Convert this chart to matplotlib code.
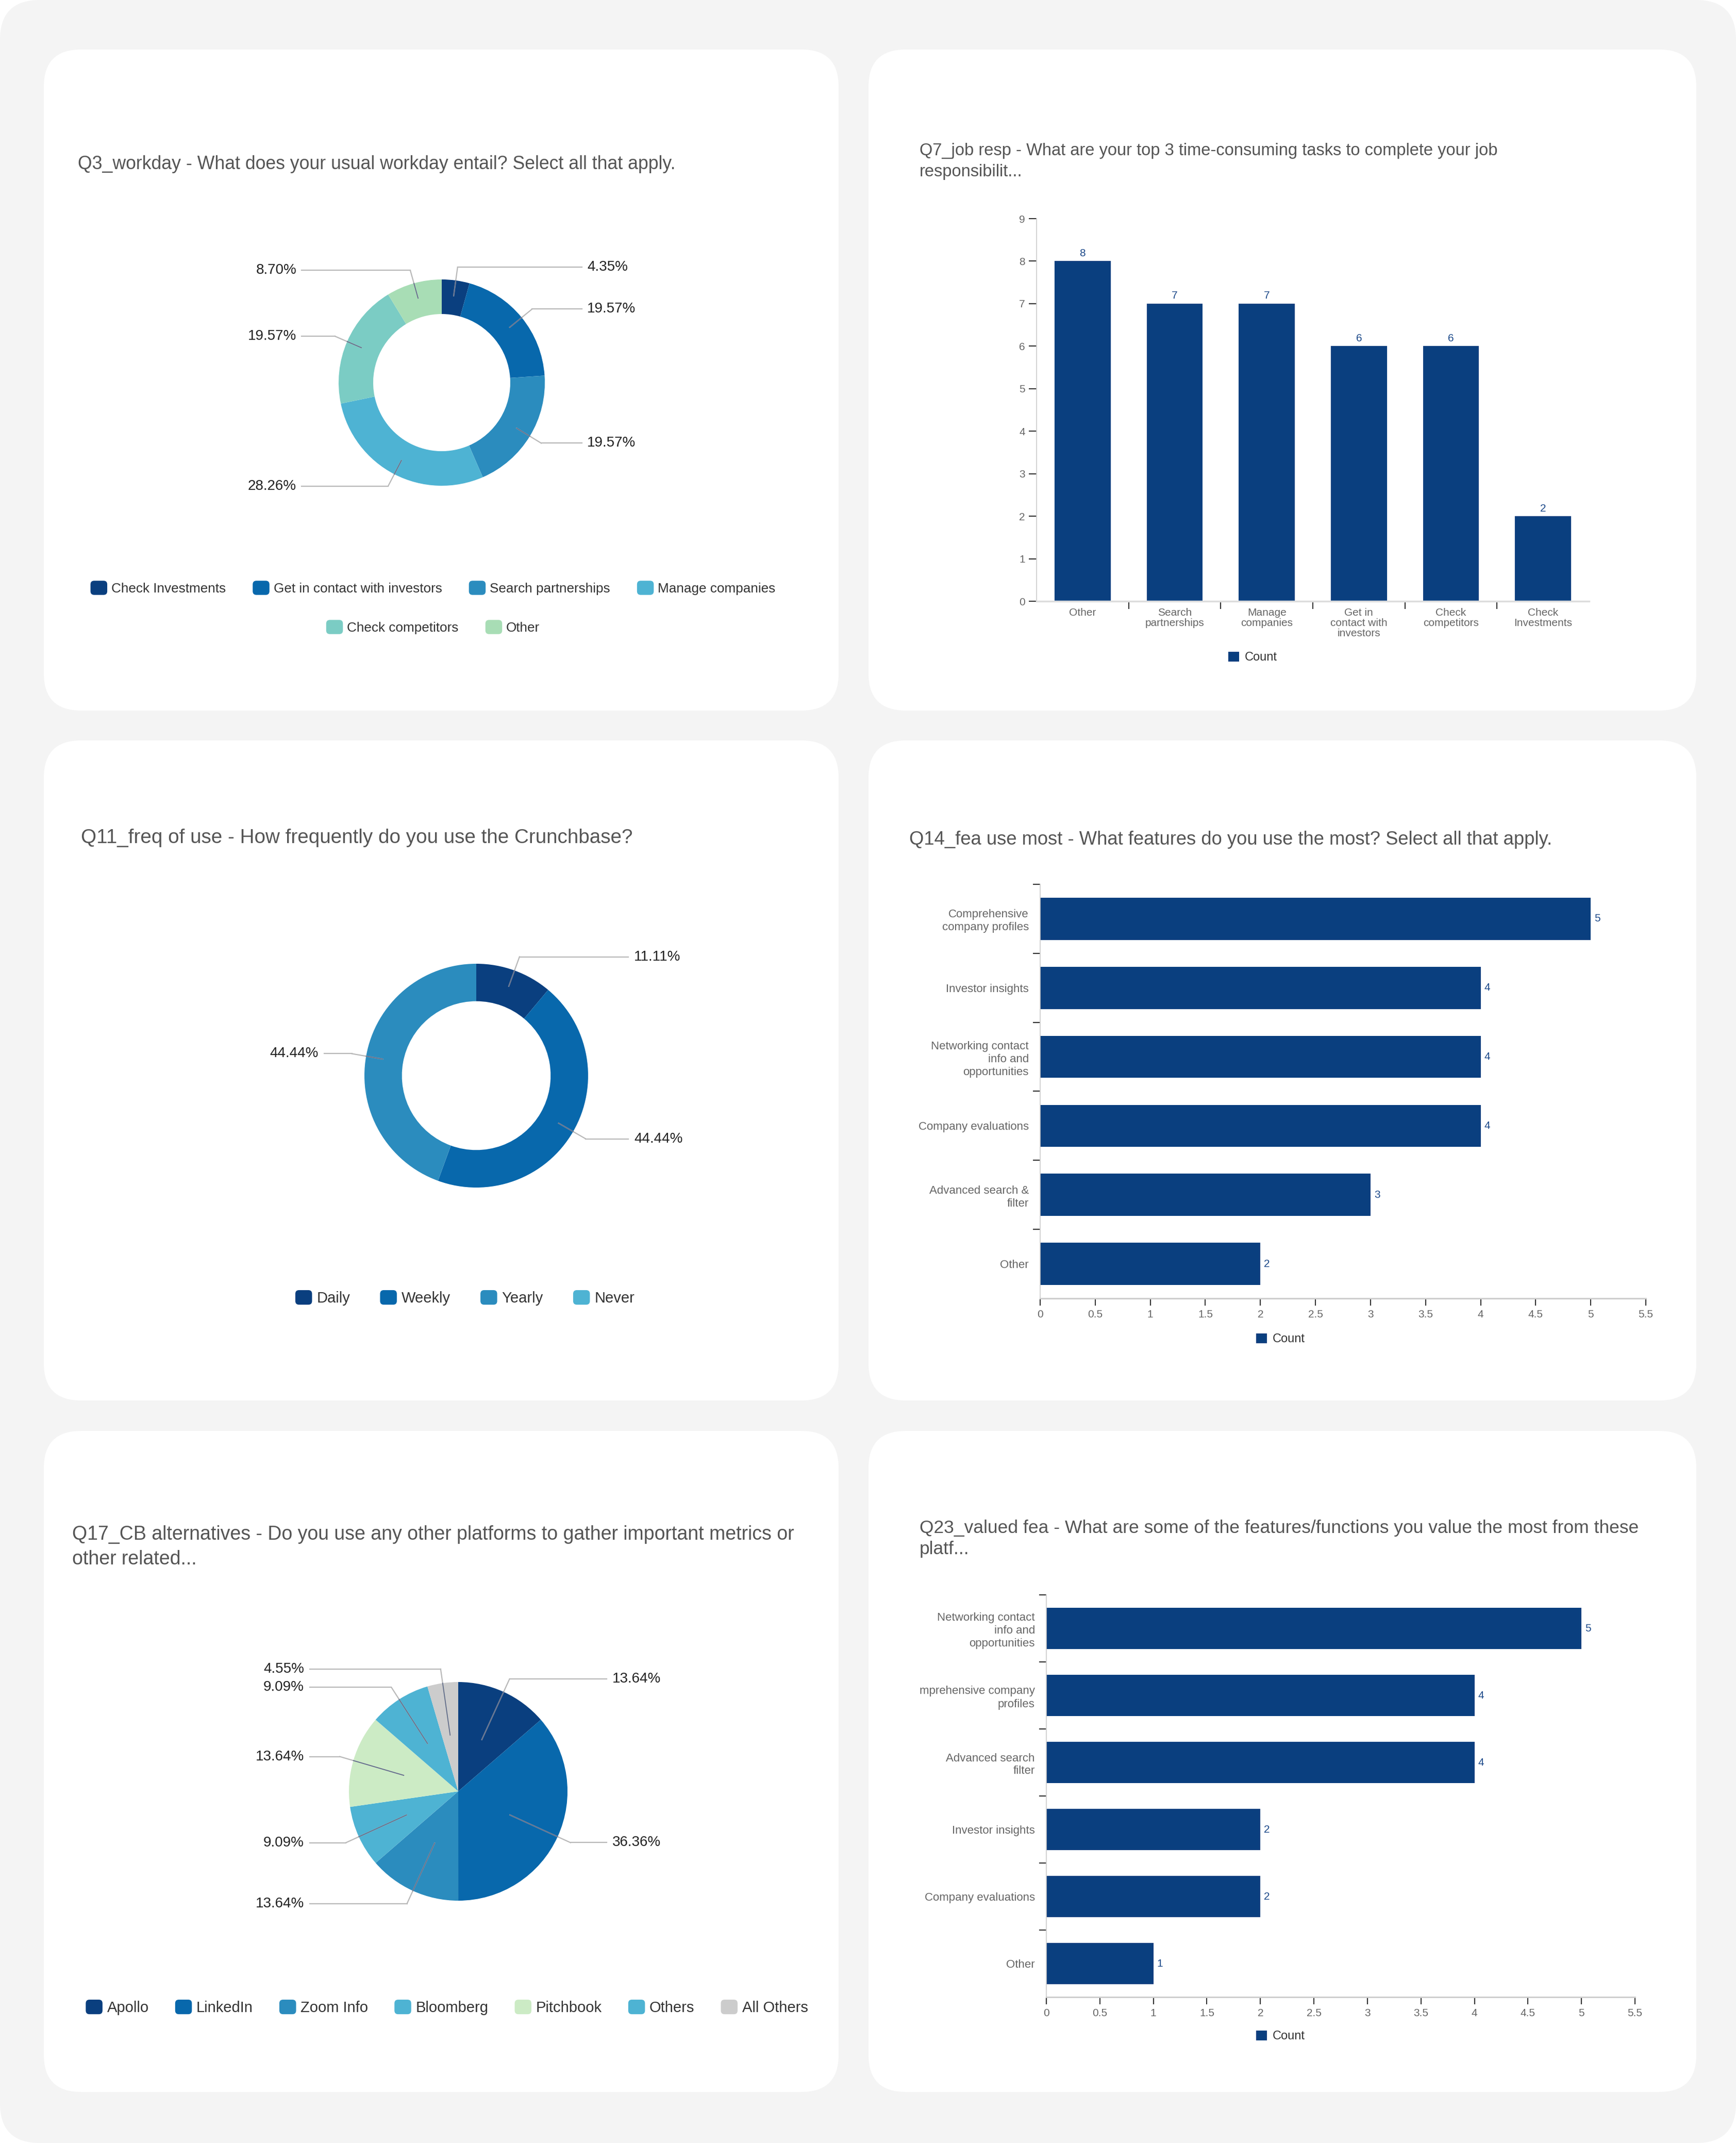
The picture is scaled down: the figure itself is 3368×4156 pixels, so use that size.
import numpy as np
import matplotlib
matplotlib.use("Agg")
import matplotlib.pyplot as plt
from matplotlib.patches import FancyBboxPatch, Patch
from matplotlib.legend_handler import HandlerPatch
from matplotlib.ticker import FuncFormatter, FixedLocator

plt.rcParams['font.family'] = ['Liberation Sans', 'DejaVu Sans']

# ---------------- data ----------------
q3_title = "Q3_workday - What does your usual workday entail? Select all that apply."
q3_labels = ["Check Investments", "Get in contact with investors", "Search partnerships",
             "Manage companies", "Check competitors", "Other"]
q3_pct = [4.35, 19.57, 19.57, 28.26, 19.57, 8.70]
q3_colors = ["#0a3f7f", "#0868ac", "#2b8cbe", "#4eb3d3", "#7bccc4", "#a8ddb5"]

q7_title = "Q7_job resp - What are your top 3 time-consuming tasks to complete your job\nresponsibilit..."
q7_cats = ["Other", "Search\npartnerships", "Manage\ncompanies", "Get in\ncontact with\ninvestors",
           "Check\ncompetitors", "Check\nInvestments"]
q7_vals = [8, 7, 7, 6, 6, 2]
q7_yticks = [0, 1, 2, 3, 4, 5, 6, 7, 8, 9]

q11_title = "Q11_freq of use - How frequently do you use the Crunchbase?"
q11_labels = ["Daily", "Weekly", "Yearly", "Never"]
q11_pct = [11.11, 44.44, 44.44, 0.0]
q11_colors = ["#0a3f7f", "#0868ac", "#2b8cbe", "#4eb3d3"]

q14_title = "Q14_fea use most - What features do you use the most? Select all that apply."
q14_cats = ["Comprehensive\ncompany profiles", "Investor insights",
            "Networking contact\ninfo and\nopportunities", "Company evaluations",
            "Advanced search &\nfilter", "Other"]
q14_vals = [5, 4, 4, 4, 3, 2]

q17_title = "Q17_CB alternatives - Do you use any other platforms to gather important metrics or\nother related..."
q17_labels = ["Apollo", "LinkedIn", "Zoom Info", "Bloomberg", "Pitchbook", "Others", "All Others"]
q17_pct = [13.64, 36.36, 13.64, 9.09, 13.64, 9.09, 4.55]
q17_colors = ["#0a3f7f", "#0868ac", "#2b8cbe", "#4eb3d3", "#ccebc5", "#4eb3d3", "#cccccc"]

q23_title = "Q23_valued fea - What are some of the features/functions you value the most from these\nplatf..."
q23_cats = ["Networking contact\ninfo and\nopportunities", "mprehensive company\nprofiles",
            "Advanced search\nfilter", "Investor insights", "Company evaluations", "Other"]
q23_vals = [5, 4, 4, 2, 2, 1]

hbar_xticks = [0, 0.5, 1, 1.5, 2, 2.5, 3, 3.5, 4, 4.5, 5, 5.5]
series_name = "Count"

BAR = "#0a3f7f"
VAL = "#1d4a8a"
TITLE_C = "#555555"
TICK_C = "#666666"

# ---------------- figure ----------------
W, H = 3368, 4156
fig = plt.figure(figsize=(W / 100, H / 100), dpi=100)
fig.patch.set_facecolor("white")


def px_rect(x0, y0, x1, y1):
    return [x0 / W, 1 - y1 / H, (x1 - x0) / W, (y1 - y0) / H]


bg = fig.add_axes([0, 0, 1, 1])
bg.set_xlim(0, W)
bg.set_ylim(H, 0)
bg.axis("off")
bg.add_patch(FancyBboxPatch((0, 0), W, H, boxstyle="round,pad=0,rounding_size=77",
                            fc="#f4f4f4", ec="none"))

cols = [(85, 1627), (1685, 3291)]
rows = [(96, 1378), (1436, 2716), (2775, 4057)]
for (y0, y1) in rows:
    for (x0, x1) in cols:
        bg.add_patch(FancyBboxPatch((x0, y0), x1 - x0, y1 - y0,
                                    boxstyle="round,pad=0,rounding_size=72",
                                    fc="white", ec="none"))

# titles
bg.text(151, 319, q3_title, fontsize=25.7, color=TITLE_C, ha="left", va="center")
bg.text(1784, 313, q7_title, fontsize=23.5, color=TITLE_C, ha="left", va="center", linespacing=1.42)
bg.text(157, 1625, q11_title, fontsize=27.8, color=TITLE_C, ha="left", va="center")
bg.text(1764, 1628, q14_title, fontsize=26.2, color=TITLE_C, ha="left", va="center")
bg.text(140, 3000, q17_title, fontsize=27.0, color=TITLE_C, ha="left", va="center", linespacing=1.4)
bg.text(1784, 2984, q23_title, fontsize=25.5, color=TITLE_C, ha="left", va="center", linespacing=1.3)


# ---------------- pies ----------------
def draw_pie(cx, cy, R, values, colors, hole, r_start):
    half = 1.9
    ax = fig.add_axes(px_rect(cx - half * R, cy - half * R, cx + half * R, cy + half * R))
    wp = dict(linewidth=0)
    if hole:
        wp["width"] = 1 - hole
    ax.pie(values, colors=colors, startangle=90, counterclock=False, radius=1, wedgeprops=wp)
    ax.set_xlim(-half, half)
    ax.set_ylim(-half, half)
    ax.set_aspect("equal")
    ax.axis("off")
    total = float(sum(values))
    cum = 0.0
    for v in values:
        if v <= 0:
            continue
        th = 2 * np.pi * (cum + v / 2) / total
        cum += v
        s, c = np.sin(th), np.cos(th)
        side = 1 if s >= 0 else -1
        ex, ey = 1.13 * s, 1.13 * c
        ax.plot([ex, 1.36 * side], [ey, ey], color="#b8b8b8", lw=1.6, clip_on=False)
        ax.plot([r_start * s, ex], [r_start * c, ey], color="#b8b8b8", lw=1.6, clip_on=False)
        ax.plot([r_start * s, 1.0 * s], [r_start * c, 1.0 * c], color="#4a5a80", lw=1.2,
                alpha=0.8, clip_on=False)
        ax.text(1.41 * side, ey, f"{v:.2f}%", ha="left" if side > 0 else "right",
                va="center", fontsize=20, color="#222222")
    return ax


def rounded_square(legend, orig_handle, xdescent, ydescent, width, height, fontsize):
    return FancyBboxPatch((-xdescent, -ydescent), width, height,
                          boxstyle=f"round,pad=0,rounding_size={0.22 * width}")


def pie_legend(labels, colors, x, y, size, colsp=2.0):
    handles = [Patch(facecolor=c, edgecolor="none") for c in colors]
    hl = 23.4 / size
    leg = fig.legend(handles, labels, loc="center", bbox_to_anchor=(x / W, 1 - y / H),
                     ncol=len(labels), frameon=False, fontsize=size,
                     handlelength=hl, handleheight=hl, handletextpad=0.3,
                     columnspacing=colsp, labelcolor="#333333",
                     handler_map={Patch: HandlerPatch(patch_func=rounded_square)})
    return leg


draw_pie(857, 742, 200, q3_pct, q3_colors, 0.665, 0.85)
pie_legend(q3_labels[:4], q3_colors[:4], 840, 1140, 18.8)
pie_legend(q3_labels[4:], q3_colors[4:], 840, 1216, 18.8)

draw_pie(924, 2086, 217, q11_pct, q11_colors, 0.665, 0.85)
pie_legend(q11_labels, q11_colors, 902, 2517, 21)

draw_pie(889, 3474, 212, q17_pct, q17_colors, 0, 0.52)
pie_legend(q17_labels, q17_colors, 867, 3893, 21, colsp=1.75)


# ---------------- bars ----------------
def count_legend(x, y):
    fig.legend([Patch(facecolor=BAR, edgecolor="none")], [series_name], loc="center",
               bbox_to_anchor=(x / W, 1 - y / H), frameon=False, fontsize=17,
               handlelength=0.9, handleheight=0.9, handletextpad=0.45, labelcolor="#333333")


def style_common(ax):
    for s in ("top", "right"):
        ax.spines[s].set_visible(False)
    ax.set_facecolor("none")


# Q7 vertical bars
ax7 = fig.add_axes(px_rect(2011, 424, 3083, 1166))
style_common(ax7)
xpos = np.arange(len(q7_cats))
b7 = ax7.bar(xpos, q7_vals, width=0.61, color=BAR)
ax7.bar_label(b7, padding=4, fontsize=15, color=VAL)
ax7.set_xlim(-0.5, len(q7_cats) - 0.5)
ax7.set_ylim(0, 9)
ax7.set_yticks(q7_yticks)
ax7.set_xticks(xpos)
ax7.set_xticklabels(q7_cats, fontsize=15, color=TICK_C, linespacing=1.1)
ax7.xaxis.set_minor_locator(FixedLocator(xpos[:-1] + 0.5))
ax7.tick_params(axis="x", which="major", length=0, pad=9)
ax7.tick_params(axis="x", which="minor", length=11, width=1.5, color="#333333", direction="out")
ax7.tick_params(axis="y", length=11, width=1.5, color="#333333", labelsize=15,
                labelcolor=TICK_C, pad=5)
ax7.spines["left"].set_color("#cccccc")
ax7.spines["left"].set_linewidth(1.2)
ax7.spines["bottom"].set_color("#dddddd")
ax7.spines["bottom"].set_linewidth(2.5)
count_legend(2430, 1275)


def hbar(rect, cats, vals, legend_xy):
    ax = fig.add_axes(px_rect(*rect))
    style_common(ax)
    ypos = np.arange(len(cats))
    bars = ax.barh(ypos, vals, height=0.61, color=BAR)
    ax.bar_label(bars, padding=5, fontsize=15, color=VAL)
    ax.set_ylim(len(cats) - 0.5, -0.5)
    ax.set_xlim(0, 5.5)
    ax.set_yticks(ypos)
    ax.set_yticklabels(cats, fontsize=16, color=TICK_C, linespacing=1.25)
    ax.yaxis.set_minor_locator(FixedLocator(ypos - 0.5))
    ax.set_xticks(hbar_xticks)
    ax.xaxis.set_major_formatter(FuncFormatter(lambda v, p: f"{v:g}"))
    ax.tick_params(axis="y", which="major", length=0, pad=16)
    ax.tick_params(axis="y", which="minor", length=10, width=1.5, color="#333333")
    ax.tick_params(axis="x", length=10, width=1.5, color="#333333", labelsize=15,
                   labelcolor=TICK_C, pad=6)
    ax.spines["left"].set_color("#cccccc")
    ax.spines["left"].set_linewidth(1.2)
    ax.spines["bottom"].set_color("#cccccc")
    ax.spines["bottom"].set_linewidth(2.0)
    count_legend(*legend_xy)
    return ax


hbar((2018, 1715, 3193, 2518), q14_cats, q14_vals, (2484, 2597))
hbar((2030, 3093, 3172, 3873), q23_cats, q23_vals, (2484, 3949))

fig.savefig("out.png", dpi=100, facecolor="white")
